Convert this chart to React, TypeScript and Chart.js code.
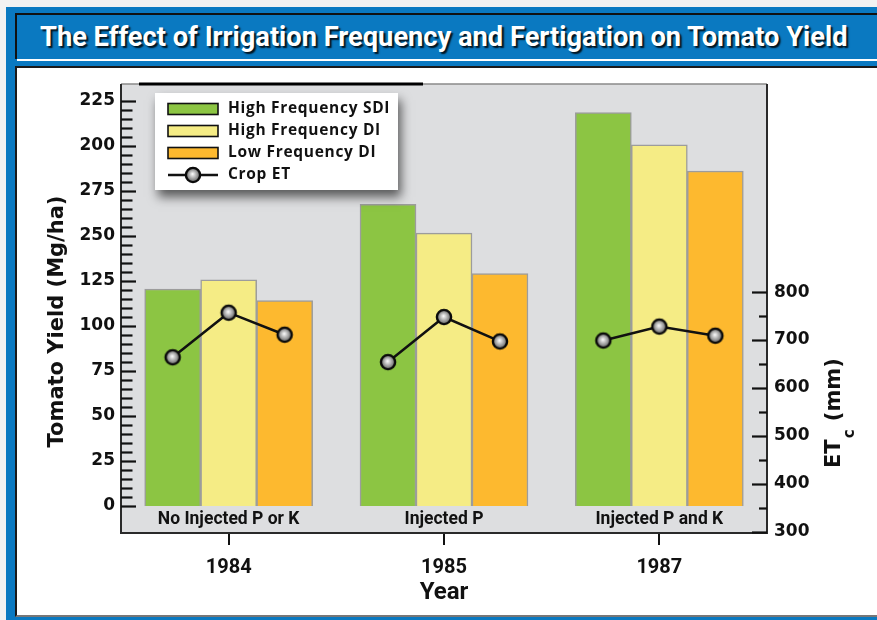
import React, { useEffect, useLayoutEffect, useRef } from 'react';
import { Chart, registerables } from 'chart.js';

Chart.register(...registerables);

// ---------------- data ----------------
const TITLE = 'The Effect of Irrigation Frequency and Fertigation on Tomato Yield';
const YEARS = ['1984', '1985', '1987'];
const TREATMENTS = ['No Injected P or K', 'Injected P', 'Injected P and K'];
const SERIES_NAMES = ['High Frequency SDI', 'High Frequency DI', 'Low Frequency DI'];
const ET_NAME = 'Crop ET';
const HF_SDI = [120.5, 167.5, 218.5];
const HF_DI = [125.5, 151.5, 200.5];
const LF_DI = [114, 129, 186];
const CROP_ET_1984 = [664, 757, 711];
const CROP_ET_1985 = [654, 748, 697];
const CROP_ET_1987 = [699, 728, 709];
const YIELD_TICK_VALUES = [0, 25, 50, 75, 100, 125, 150, 175, 200, 225];
const YIELD_TICK_LABELS = ['0', '25', '50', '75', '100', '125', '250', '275', '200', '225'];
const YIELD_MINOR_STEP = 5;
const ET_TICK_VALUES = [300, 400, 500, 600, 700, 800];
const ET_TICK_LABELS = ['300', '400', '500', '600', '700', '800'];
const ET_MINOR_STEP = 50;
const Y_TITLE = 'Tomato Yield (Mg/ha)';
const X_TITLE = 'Year';

// ---------------- style ----------------
const COLORS = ['#8cc543', '#f5ec85', '#fdb92f'];
const BAR_BORDER = '#9c9c9c';
const PLOT_BG = '#dddee0';
const INK = '#111111';
const BLUE = '#0a79c1';
const GROUP_FRACTION = 0.78; // share of a year slot taken by its three bars
const NUM_FONT = '"DejaVu Sans", sans-serif';
const COND_FONT = 'Roboto, sans-serif';
const LEGEND_FONT = '"Open Sans", sans-serif';

function makeBall(): HTMLCanvasElement {
  const c = document.createElement('canvas');
  c.width = 20;
  c.height = 20;
  const g = c.getContext('2d')!;
  const grad = g.createRadialGradient(9.5, 9, 0.5, 10, 10, 8);
  grad.addColorStop(0, '#f4f4f4');
  grad.addColorStop(1, '#4e4e4e');
  g.beginPath();
  g.arc(10, 10, 7.1, 0, Math.PI * 2);
  g.fillStyle = grad;
  g.fill();
  g.lineWidth = 2.4;
  g.strokeStyle = '#0a0a0a';
  g.stroke();
  return c;
}

function stepValues(from: number, to: number, step: number) {
  const out: number[] = [];
  for (let v = from; v <= to + 1e-9; v += step) out.push(Math.round(v * 1000) / 1000);
  return out;
}

// slot position of bar k (0..2) within year i
const slotX = (i: number, k: number) => i + ((k - 1) * GROUP_FRACTION) / 3;

export default function App() {
  const canvasRef = useRef<HTMLCanvasElement>(null);
  const titleRef = useRef<HTMLSpanElement>(null);

  useLayoutEffect(() => {
    const el = titleRef.current;
    if (el) {
      const w = el.offsetWidth;
      if (w > 0) el.style.transform = `scaleX(${808 / w})`;
    }
  }, []);

  useEffect(() => {
    const canvas = canvasRef.current;
    if (!canvas) return;
    const ball = makeBall();

    const etSeries = [CROP_ET_1984, CROP_ET_1985, CROP_ET_1987];
    const etPoints: { x: number; y: number | null }[] = [];
    etSeries.forEach((vals, i) => {
      vals.forEach((v, k) => etPoints.push({ x: slotX(i, k), y: v }));
      if (i < etSeries.length - 1) etPoints.push({ x: i + 0.5, y: null });
    });

    const barSets = [HF_SDI, HF_DI, LF_DI].map((d, k) => ({
      type: 'bar' as const,
      label: SERIES_NAMES[k],
      data: d.map((v, i) => ({ x: slotX(i, k), y: v })),
      backgroundColor: COLORS[k],
      borderColor: BAR_BORDER,
      borderWidth: 1.5,
      xAxisID: 'xl',
      yAxisID: 'y',
      grouped: false,
      categoryPercentage: 1,
      barPercentage: 1,
      order: 1,
    }));

    const decoPlugin = {
      id: 'deco',
      beforeDatasetsDraw(chart: any) {
        const { ctx, chartArea: ca } = chart;
        ctx.save();
        ctx.fillStyle = PLOT_BG;
        ctx.fillRect(ca.left, ca.top, ca.right - ca.left, ca.bottom - ca.top);
        ctx.restore();
      },
      afterDatasetsDraw(chart: any) {
        const { ctx, chartArea: ca, scales } = chart;
        ctx.save();
        // plot frame
        ctx.strokeStyle = '#8a8a8a';
        ctx.lineWidth = 1.5;
        ctx.beginPath();
        ctx.moveTo(ca.left, ca.top);
        ctx.lineTo(ca.right, ca.top);
        ctx.stroke();
        ctx.strokeStyle = '#2a2a2a';
        ctx.lineWidth = 2;
        ctx.beginPath();
        ctx.moveTo(ca.left, ca.top);
        ctx.lineTo(ca.left, ca.bottom);
        ctx.lineTo(ca.right, ca.bottom);
        ctx.lineTo(ca.right, ca.top);
        ctx.stroke();
        ctx.strokeStyle = '#000';
        ctx.lineWidth = 3;
        ctx.beginPath();
        ctx.moveTo(ca.left + 18, ca.top);
        ctx.lineTo(ca.left + 302, ca.top);
        ctx.stroke();

        // tick marks inside the plot
        ctx.strokeStyle = INK;
        ctx.lineWidth = 2.2;
        const y = scales.y;
        y.ticks.forEach((t: any) => {
          const major = YIELD_TICK_VALUES.includes(t.value);
          const len = major ? 15 : 11.5;
          const py = Math.round(y.getPixelForValue(t.value)) + 0.5;
          ctx.beginPath();
          ctx.moveTo(ca.left, py);
          ctx.lineTo(ca.left + len, py);
          ctx.stroke();
        });
        const y2 = scales.y2;
        y2.ticks.forEach((t: any) => {
          const major = ET_TICK_VALUES.includes(t.value);
          const len = major ? 15 : 8;
          const py = Math.round(y2.getPixelForValue(t.value)) + 0.5;
          if (py > ca.bottom) return;
          ctx.beginPath();
          ctx.moveTo(ca.right, py);
          ctx.lineTo(ca.right - len, py);
          ctx.stroke();
        });

        // treatment labels inside plot
        const x = scales.x;
        const zeroY = y.getPixelForValue(0);
        ctx.fillStyle = INK;
        ctx.font = `bold 17.5px ${COND_FONT}`;
        ctx.textAlign = 'center';
        ctx.textBaseline = 'middle';
        TREATMENTS.forEach((t, i) => ctx.fillText(t, x.getPixelForValue(i), zeroY + 14));
        ctx.restore();
      },
      afterDraw(chart: any) {
        const { ctx, chartArea: ca } = chart;
        ctx.save();
        // left axis title
        ctx.fillStyle = INK;
        ctx.font = `bold 21px ${NUM_FONT}`;
        ctx.textAlign = 'center';
        ctx.textBaseline = 'alphabetic';
        ctx.translate(ca.left - 58, (ca.top + ca.bottom) / 2 + 13);
        ctx.rotate(-Math.PI / 2);
        ctx.fillText(Y_TITLE, 0, 0);
        ctx.restore();

        // right axis title ET_c (mm)
        ctx.save();
        ctx.fillStyle = INK;
        ctx.translate(ca.right + 73, ca.bottom - 65);
        ctx.rotate(-Math.PI / 2);
        ctx.textAlign = 'left';
        ctx.textBaseline = 'alphabetic';
        ctx.font = `bold 21px ${NUM_FONT}`;
        ctx.fillText('ET', 0, 0);
        const w1 = ctx.measureText('ET').width;
        ctx.font = `bold 15px ${NUM_FONT}`;
        ctx.fillText('c', w1 + 1, 14);
        const w2 = ctx.measureText('c').width;
        ctx.font = `bold 21px ${NUM_FONT}`;
        ctx.fillText(' (mm)', w1 + w2 + 2, 0);
        ctx.restore();

        // legend
        ctx.save();
        const bx = ca.left + 34;
        const by = ca.top + 9;
        const bw = 243;
        const bh = 97;
        ctx.shadowColor = 'rgba(0,0,0,0.6)';
        ctx.shadowBlur = 10;
        ctx.shadowOffsetX = 3;
        ctx.shadowOffsetY = 7;
        ctx.fillStyle = '#ffffff';
        ctx.fillRect(bx, by, bw, bh);
        ctx.restore();
        ctx.save();
        const ds = chart.data.datasets;
        ds.forEach((d: any, i: number) => {
          const ry = by + 16 + i * 22;
          const sx = bx + 13;
          if (d.type === 'bar') {
            ctx.fillStyle = d.backgroundColor;
            ctx.fillRect(sx, ry - 5.5, 50, 11);
            ctx.strokeStyle = INK;
            ctx.lineWidth = 1.6;
            ctx.strokeRect(sx, ry - 5.5, 50, 11);
          } else {
            ctx.strokeStyle = INK;
            ctx.lineWidth = 2.5;
            ctx.beginPath();
            ctx.moveTo(sx, ry);
            ctx.lineTo(sx + 50, ry);
            ctx.stroke();
            ctx.drawImage(ball, sx + 25 - 10, ry - 10);
          }
          ctx.fillStyle = INK;
          ctx.font = `bold 15.5px ${LEGEND_FONT}`;
          (ctx as any).letterSpacing = '0.7px';
          ctx.textAlign = 'left';
          ctx.textBaseline = 'middle';
          ctx.fillText(d.label, sx + 60, ry);
          (ctx as any).letterSpacing = '0px';
        });
        ctx.restore();
      },
    };

    const chart = new Chart(canvas, {
      type: 'bar',
      data: {
        labels: YEARS,
        datasets: [
          ...barSets,
          {
            type: 'line' as const,
            label: ET_NAME,
            data: etPoints as any,
            xAxisID: 'xl',
            yAxisID: 'y2',
            borderColor: INK,
            borderWidth: 2.5,
            pointStyle: ball as any,
            pointRadius: 8,
            spanGaps: false,
            order: 0,
          } as any,
        ],
      },
      options: {
        responsive: false,
        animation: false,
        devicePixelRatio: 1,
        layout: { padding: { top: 84, left: 0, right: 0, bottom: 0 } },
        plugins: { legend: { display: false }, tooltip: { enabled: false }, title: { display: false } },
        scales: {
          x: {
            type: 'category',
            labels: YEARS,
            position: 'bottom',
            offset: true,
            grid: { display: true, drawOnChartArea: false, offset: false, tickLength: 12, color: INK, lineWidth: 2 },
            border: { display: false },
            ticks: { font: { family: COND_FONT, size: 20, weight: 'bold' }, color: INK, padding: 11 },
            title: {
              display: true,
              text: X_TITLE,
              color: INK,
              font: { family: COND_FONT, size: 24, weight: 'bold' },
              padding: { top: 0, bottom: 13 },
            },
            afterFit: (s: any) => {
              s.height = 87;
            },
          },
          xl: {
            type: 'linear',
            display: false,
            offset: false,
            min: -0.5,
            max: 2.5,
            ticks: { stepSize: 1 },
          },
          y: {
            type: 'linear',
            position: 'left',
            min: -15,
            max: 234.3,
            afterBuildTicks: (s: any) => {
              s.ticks = stepValues(0, 225, YIELD_MINOR_STEP).map((v) => ({ value: v }));
            },
            grid: { display: false, drawTicks: false },
            border: { display: false },
            ticks: {
              autoSkip: false,
              padding: 6,
              color: INK,
              font: { family: NUM_FONT, size: 17, weight: 'bold' },
              callback: (v: any) => {
                const i = YIELD_TICK_VALUES.indexOf(Number(v));
                return i >= 0 ? YIELD_TICK_LABELS[i] : '';
              },
            },
            afterFit: (s: any) => {
              s.width = 121;
            },
          },
          y2: {
            type: 'linear',
            position: 'right',
            min: 297.5,
            max: 1234,
            afterBuildTicks: (s: any) => {
              s.ticks = stepValues(300, 800, ET_MINOR_STEP).map((v) => ({ value: v }));
            },
            grid: { display: false, drawTicks: false },
            border: { display: false },
            ticks: {
              autoSkip: false,
              padding: 7,
              color: INK,
              font: { family: NUM_FONT, size: 17, weight: 'bold' },
              callback: (v: any) => {
                const i = ET_TICK_VALUES.indexOf(Number(v));
                return i >= 0 ? ET_TICK_LABELS[i] : '';
              },
            },
            afterFit: (s: any) => {
              s.width = 110;
            },
          },
        },
      } as any,
      plugins: [decoPlugin],
    });
    return () => chart.destroy();
  }, []);

  return (
    <div
      style={{
        position: 'fixed',
        left: 0,
        top: 0,
        width: 877,
        height: 620,
        overflow: 'hidden',
        background: '#f2f2f2',
      }}
    >
      <div style={{ position: 'absolute', left: 6, top: 7, width: 900, height: 700, background: BLUE }} />
      <div
        style={{
          position: 'absolute',
          left: 15,
          top: 13,
          width: 900,
          height: 46,
          background: BLUE,
          borderTop: '2px solid #111',
          borderLeft: '2px solid #111',
          boxSizing: 'border-box',
        }}
      />
      <div style={{ position: 'absolute', left: 17, top: 59, width: 900, height: 2, background: '#ffffff' }} />
      <span
        ref={titleRef}
        style={{
          position: 'absolute',
          left: 40,
          top: 14,
          lineHeight: '46px',
          fontSize: 27,
          fontFamily: COND_FONT,
          fontWeight: 700,
          color: '#ffffff',
          whiteSpace: 'nowrap',
          display: 'inline-block',
          transformOrigin: 'left center',
          textShadow: '2px 2px 1.5px rgba(0,0,0,0.85)',
        }}
      >
        {TITLE}
      </span>
      <div
        style={{
          position: 'absolute',
          left: 15,
          top: 66,
          width: 900,
          height: 551,
          background: '#ffffff',
          borderTop: '2px solid #1a1a1a',
          borderLeft: '2px solid #1a1a1a',
          borderBottom: '2px solid #777',
          boxSizing: 'border-box',
        }}
      />
      <canvas
        ref={canvasRef}
        width={877}
        height={620}
        style={{ position: 'absolute', left: 0, top: 0, width: 877, height: 620 }}
      />
    </div>
  );
}
